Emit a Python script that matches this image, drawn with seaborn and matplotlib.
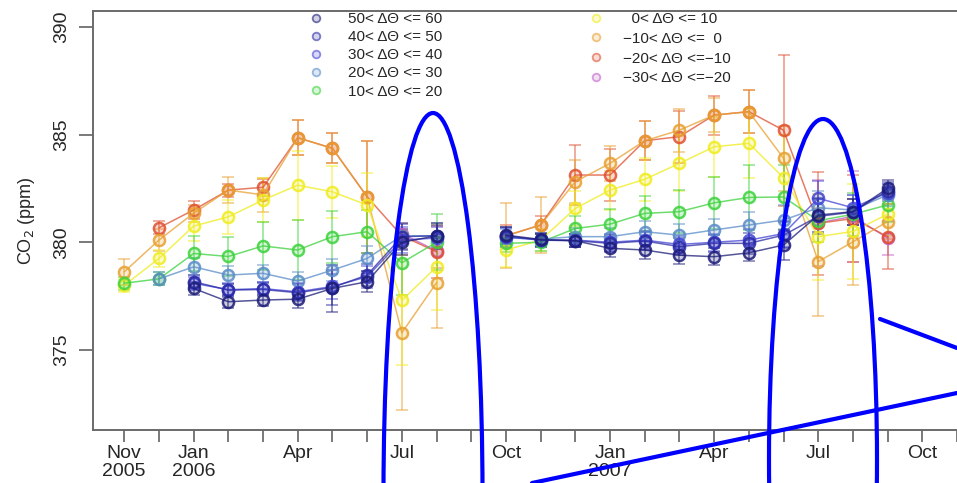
import numpy as np
import pandas as pd
import matplotlib
matplotlib.use("Agg")
import matplotlib.pyplot as plt
import seaborn as sns
from matplotlib.patches import Ellipse
from matplotlib.lines import Line2D

nan = np.nan

# month index 0 = Nov 2005 ... 22 = Sep 2007 (Sep 2006 has no data)
month_idx = list(range(23))
tick_labels = ["Nov\n2005", "", "Jan\n2006", "", "", "Apr", "", "", "Jul", "", "",
               "Oct", "", "", "Jan\n2007", "", "", "Apr", "", "", "Jul", "", "", "Oct", ""]

class_labels = ["50< ΔΘ <= 60", "40< ΔΘ <= 50", "30< ΔΘ <= 40", "20< ΔΘ <= 30",
                "10< ΔΘ <= 20", "  0< ΔΘ <= 10", "−10< ΔΘ <=  0", "−20< ΔΘ <=−10",
                "−30< ΔΘ <=−20"]

s50_60 = [nan, nan, 377.86, 377.24, 377.32, 377.36, 377.86, 378.17, 380.0, 380.3, nan,
          380.33, 380.13, 380.07, 379.72, 379.64, 379.4, 379.33, 379.51, 379.87, 381.26, 381.42, 382.5]
s40_50 = [nan, nan, 378.17, 377.78, 377.81, 377.66, 377.9, 378.48, 380.26, 380.3, nan,
          380.3, 380.1, 380.07, 379.95, 380.06, 379.8, 379.95, 379.95, 380.33, 381.2, 381.4, 382.4]
s30_40 = [nan, nan, 378.1, 377.8, 377.85, 377.7, 377.95, 378.4, 380.1, 380.2, nan,
          380.25, 380.1, 380.1, 380.0, 380.1, 379.9, 380.0, 380.1, 380.4, 382.04, 381.6, 382.3]
s20_30 = [nan, 378.3, 378.86, 378.48, 378.56, 378.2, 378.71, 379.25, 380.3, 380.3, nan,
          380.2, 380.15, 380.26, 380.26, 380.49, 380.33, 380.57, 380.8, 381.03, 381.6, 381.5, 382.2]
s10_20 = [378.1, 378.3, 379.48, 379.34, 379.83, 379.64, 380.26, 380.49, 379.05, 380.0, nan,
          379.95, 380.0, 380.64, 380.84, 381.34, 381.42, 381.83, 382.08, 382.1, 381.0, 381.3, 381.73]
s0_10 = [378.0, 379.25, 380.75, 381.18, 381.96, 382.65, 382.34, 381.73, 377.3, 378.86, nan,
         379.64, 380.1, 381.57, 382.42, 382.92, 383.66, 384.43, 384.59, 383.0, 380.26, 380.5, 381.3]
sm10_0 = [378.63, 380.1, 381.35, 382.42, 382.2, 384.85, 384.36, 382.11, 375.8, 378.12, nan,
          380.3, 380.8, 382.81, 383.66, 384.71, 385.2, 385.9, 386.06, 383.9, 379.1, 380.02, 380.96]
sm20_m10 = [nan, 380.67, 381.5, 382.42, 382.55, 384.85, 384.36, 382.11, 380.3, 379.56, nan,
            380.3, 380.8, 383.12, 383.12, 384.71, 384.9, 385.9, 386.06, 385.2, 380.88, 381.1, 380.26]
sm30_m20 = [nan, nan, nan, nan, nan, nan, nan, nan, 380.4, 379.6, nan,
            nan, nan, nan, nan, nan, nan, nan, nan, nan, 380.9, 381.2, 380.2]

e50_60 = [nan, nan, 0.3, 0.3, 0.3, 0.4, 1.1, 0.5, 0.6, 0.6, nan, 0.4, 0.3, 0.3, 0.4, 0.4, 0.4, 0.4, 0.4, 0.7, 0.8, 0.6, 0.4]
e40_50 = [nan, nan, 0.3, 0.3, 0.3, 0.4, 0.8, 0.5, 0.6, 0.5, nan, 0.4, 0.3, 0.3, 0.4, 0.4, 0.4, 0.4, 0.5, 0.6, 0.8, 0.6, 0.4]
e30_40 = [nan, nan, 0.3, 0.3, 0.3, 0.4, 0.6, 0.5, 0.6, 0.5, nan, 0.4, 0.3, 0.3, 0.4, 0.4, 0.4, 0.4, 0.5, 0.6, 0.8, 0.6, 0.4]
e20_30 = [nan, 0.3, 0.4, 0.4, 0.4, 0.4, 0.5, 0.6, 0.6, 0.6, nan, 0.4, 0.3, 0.4, 0.4, 0.5, 0.5, 0.5, 0.6, 0.7, 0.8, 0.7, 0.5]
e10_20 = [0.3, 0.3, 0.8, 0.9, 1.1, 1.4, 1.2, 1.0, 1.5, 1.3, nan, 0.4, 0.4, 0.6, 0.7, 0.8, 1.0, 1.2, 1.5, 1.5, 1.0, 1.0, 0.8]
e0_10 = [0.3, 0.4, 0.7, 0.8, 1.0, 1.6, 1.2, 1.5, 3.0, 2.0, nan, 0.8, 0.5, 0.8, 0.9, 1.0, 1.3, 1.4, 1.6, 2.0, 2.0, 2.2, 1.0]
em10_0 = [0.6, 0.5, 0.4, 0.6, 0.8, 0.8, 0.7, 2.6, 3.6, 2.1, nan, 1.5, 1.3, 1.0, 0.8, 0.9, 1.0, 0.8, 1.0, 1.5, 2.5, 2.0, 0.8]
em20_m10 = [nan, 0.3, 0.4, 0.3, 0.4, 0.8, 0.7, 2.6, 0.6, 1.2, nan, 0.5, 0.4, 1.4, 1.2, 0.9, 1.2, 0.9, 1.0, 3.5, 2.4, 2.0, 1.5]
em30_m20 = [nan, nan, nan, nan, nan, nan, nan, nan, 0.5, 0.8, nan, nan, nan, nan, nan, nan, nan, nan, nan, nan, 2.0, 2.1, 0.8]

series_vals = [s50_60, s40_50, s30_40, s20_30, s10_20, s0_10, sm10_0, sm20_m10, sm30_m20]
series_errs = [e50_60, e40_50, e30_40, e20_30, e10_20, e0_10, em10_0, em20_m10, em30_m20]
colors = ["#1c1c78", "#2b2ba6", "#4444d6", "#5a8cc8", "#3cd23c", "#f0ec1e",
          "#e8a030", "#e05030", "#c060c8"]

# ---------- figure ----------
sns.set_theme(style="ticks")
plt.rcParams["font.family"] = ["Liberation Sans", "DejaVu Sans"]

W, H = 957, 483
fig = plt.figure(figsize=(W / 100, H / 100), dpi=100)
ax = fig.add_axes([92.7 / W, 1 - 430 / H, 1 - 92.7 / W, (430 - 11) / H])

rows = []
for lab, vals, errs in zip(class_labels, series_vals, series_errs):
    for m, v, e in zip(month_idx, vals, errs):
        if not np.isnan(v):
            rows.append({"cls": lab, "month": m, "co2": v, "err": e,
                         "segment": 0 if m < 10 else 1})
df = pd.DataFrame(rows)

rgba = matplotlib.colors.to_rgba
for lab, col in reversed(list(zip(class_labels, colors))):
    sub = df[df["cls"] == lab]
    ax.errorbar(sub["month"], sub["co2"], yerr=sub["err"], fmt="none",
                ecolor=rgba(col, 0.55), elinewidth=1.2, capsize=4.5, capthick=1.2, zorder=2)
    sns.lineplot(data=sub, x="month", y="co2", units="segment", estimator=None,
                 color=rgba(col, 0.75), linewidth=1.1, marker="o", markersize=8,
                 markerfacecolor=rgba(col, 0.22), markeredgecolor=rgba(col, 0.85),
                 markeredgewidth=1.8, ax=ax, legend=False, zorder=3)

ax.set_xlim(-0.909, 23.786)
ax.set_ylim(371.29, 390.73)
ax.set_xticks(range(len(tick_labels)))
ax.set_xticklabels(tick_labels, fontsize=14, linespacing=1.12)
ax.set_yticks([375, 380, 385, 390])
ax.set_yticklabels(["375", "380", "385", "390"], fontsize=14, rotation=90, va="center")
ax.tick_params(axis="x", length=8.5, width=1.1, color="#555555", pad=2)
ax.tick_params(axis="y", length=10, width=1.1, color="#555555", pad=6)
ax.set_xlabel("")
ax.set_ylabel("CO$_2$ (ppm)", fontsize=13, labelpad=12)
for side in ["left", "bottom", "top"]:
    ax.spines[side].set_visible(True)
    ax.spines[side].set_color("#6a6a6a")
    ax.spines[side].set_linewidth(1.4)
ax.spines["right"].set_visible(False)

# ---------- legends ----------
def handles(idx):
    return [Line2D([0], [0], linestyle="none", marker="o", markersize=5.5,
                   markerfacecolor=rgba(colors[i], 0.2),
                   markeredgecolor=rgba(colors[i], 0.6), markeredgewidth=1.3) for i in idx]

leg1 = fig.legend(handles(range(5)), class_labels[:5], loc="upper left",
                  bbox_to_anchor=(308 / W, 1 - 12 / H), frameon=False, fontsize=11,
                  handlelength=1.0, handletextpad=1.6, labelspacing=0.27,
                  borderpad=0, borderaxespad=0)
leg2 = fig.legend(handles(range(5, 9)), class_labels[5:], loc="upper left",
                  bbox_to_anchor=(588 / W, 1 - 12 / H), frameon=False, fontsize=11,
                  handlelength=1.0, handletextpad=1.3, labelspacing=0.38,
                  borderpad=0, borderaxespad=0)

# ---------- blue hand-drawn annotations ----------
def fx(x):
    return x / W

def fy(y):
    return 1 - y / H

for cx, cy, w, h in [(433, 493, 99, 760), (823, 459, 108, 680)]:
    fig.add_artist(Ellipse((fx(cx), fy(cy)), w / W, h / H, transform=fig.transFigure,
                           fill=False, edgecolor="#0000ff", linewidth=3.0, zorder=10))
fig.add_artist(Line2D([fx(880), fx(957)], [fy(319), fy(348)], transform=fig.transFigure,
                      color="#0000ff", linewidth=3.0, zorder=10))
fig.add_artist(Line2D([fx(532), fx(957)], [fy(483), fy(393)], transform=fig.transFigure,
                      color="#0000ff", linewidth=3.0, zorder=10))

fig.savefig("out.png", dpi=100)
